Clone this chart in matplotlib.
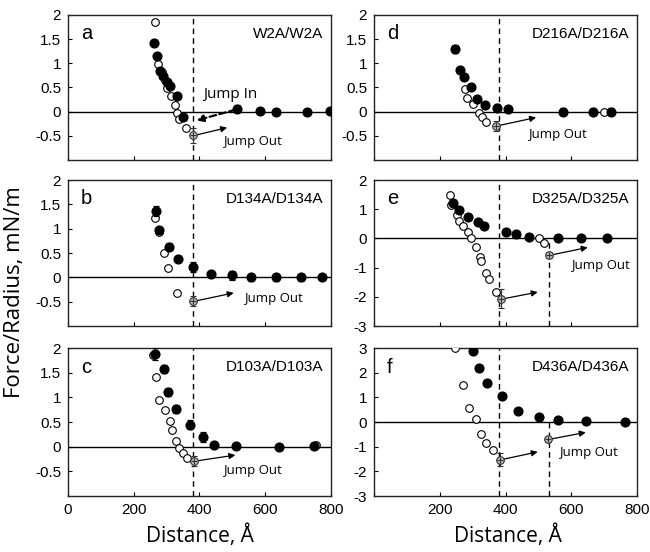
import numpy as np
import matplotlib.pyplot as plt

plt.rcParams['font.family'] = ['Liberation Sans', 'DejaVu Sans']

# ---- panel a : W2A/W2A ----
a_in_x = [263, 270, 280, 290, 300, 311, 333, 349, 514, 583, 633, 727, 796]
a_in_y = [1.42, 1.15, 0.85, 0.74, 0.61, 0.54, 0.32, -0.12, 0.06, 0.02, 0.0, 0.0, 0.01]
a_in_err = [0.06, 0.05, 0.05, 0.05, 0.05, 0.05, 0.06, 0.06, 0.07, 0.06, 0.06, 0.06, 0.06]
a_out_x = [265, 275, 285, 295, 302, 314, 326, 331, 339, 359]
a_out_y = [1.86, 0.98, 0.81, 0.65, 0.49, 0.32, 0.14, -0.03, -0.15, -0.33]
a_jump_x = [380]
a_jump_y = [-0.49]
a_jump_err = [0.15]
a_arrow_to = [[484, -0.33]]
a_dash = [380]

# ---- panel b : D134A/D134A ----
b_in_x = [268, 278, 307, 334, 380, 434, 498, 557, 633, 709, 772]
b_in_y = [1.37, 0.97, 0.63, 0.375, 0.22, 0.07, 0.04, 0.0, 0.0, 0.0, 0.0]
b_in_err = [0.1, 0.06, 0.07, 0.07, 0.1, 0.06, 0.1, 0.07, 0.07, 0.07, 0.05]
b_out_x = [265, 278, 293, 305, 331]
b_out_y = [1.21, 0.93, 0.51, 0.19, -0.32]
b_jump_x = [380]
b_jump_y = [-0.49]
b_jump_err = [0.1]
b_arrow_to = [[504, -0.32]]
b_dash = [380]

# ---- panel c : D103A/D103A ----
c_in_x = [265, 293, 305, 328, 370, 410, 443, 510, 642, 749]
c_in_y = [1.88, 1.57, 1.11, 0.77, 0.45, 0.2, 0.04, 0.01, 0.0, 0.01]
c_in_err = [0.12, 0.08, 0.08, 0.08, 0.1, 0.1, 0.06, 0.06, 0.06, 0.06]
c_out_x = [258, 268, 277, 296, 309, 315, 327, 338, 349, 362, 755]
c_out_y = [1.87, 1.41, 0.95, 0.74, 0.53, 0.34, 0.11, -0.02, -0.13, -0.22, 0.04]
c_jump_x = [384]
c_jump_y = [-0.29]
c_jump_err = [0.1]
c_arrow_to = [[509, -0.17]]
c_dash = [380]

# ---- panel d : D216A/D216A ----
d_in_x = [245, 261, 274, 294, 314, 339, 375, 408, 574, 667, 720]
d_in_y = [1.30, 0.87, 0.71, 0.51, 0.26, 0.14, 0.08, 0.05, 0.0, 0.0, 0.0]
d_in_err = [0.08, 0.06, 0.06, 0.06, 0.06, 0.06, 0.07, 0.06, 0.07, 0.07, 0.07]
d_out_x = [276, 284, 301, 318, 329, 341, 701]
d_out_y = [0.46, 0.28, 0.15, -0.03, -0.12, -0.22, 0.0]
d_jump_x = [372]
d_jump_y = [-0.29]
d_jump_err = [0.1]
d_arrow_to = [[493, -0.12]]
d_dash = [380]

# ---- panel e : D325A/D325A ----
e_in_x = [240, 258, 286, 316, 336, 402, 432, 473, 561, 631, 708]
e_in_y = [1.22, 0.99, 0.75, 0.55, 0.41, 0.21, 0.14, 0.06, 0.03, 0.01, 0.01]
e_in_err = [0.06, 0.06, 0.06, 0.06, 0.06, 0.06, 0.06, 0.06, 0.06, 0.06, 0.06]
e_out_x = [230, 235, 252, 260, 271, 286, 296, 309, 321, 326, 341, 351, 370, 501, 516]
e_out_y = [1.49, 1.13, 0.80, 0.61, 0.44, 0.23, 0.0, -0.28, -0.62, -0.77, -1.20,
           -1.40, -1.84, 0.0, -0.16]
e_jump_x = [387, 533]
e_jump_y = [-2.07, -0.57]
e_jump_err = [0.33, 0.1]
e_arrow_to = [[498, -1.84], [650, -0.31]]
e_dash = [380, 533]

# ---- panel f : D436A/D436A ----
f_in_x = [301, 319, 343, 390, 437, 503, 559, 644, 764]
f_in_y = [2.87, 2.20, 1.58, 1.05, 0.46, 0.22, 0.08, 0.04, 0.0]
f_in_err = [0.08, 0.08, 0.08, 0.08, 0.08, 0.08, 0.08, 0.08, 0.08]
f_out_x = [245, 271, 289, 311, 324, 341, 362]
f_out_y = [3.0, 1.51, 0.56, 0.11, -0.49, -0.84, -1.12]
f_jump_x = [384, 528]
f_jump_y = [-1.52, -0.70]
f_jump_err = [0.25, 0.1]
f_arrow_to = [[498, -1.21], [644, -0.42]]
f_dash = [380, 533]


def draw_panel(ax, letter, name, in_x, in_y, in_err, out_x, out_y,
               jump_x, jump_y, jump_err, arrow_to, dash, ylim, yticks,
               text_xy, xlabels=False):
    ax.set_xlim(0, 800)
    ax.set_ylim(*ylim)
    ax.axhline(0, color='black', lw=1, zorder=1)

    # first dashed line runs the full height, any second one stops at zero
    ax.axvline(dash[0], color='black', lw=1, ls=(0, (4, 3)), zorder=1)
    for d in dash[1:]:
        ax.vlines(d, ylim[0], 0, color='black', lw=1, ls=(0, (4, 3)), zorder=1)

    ax.plot(out_x, out_y, 'o', mfc='white', mec='black', ms=5.5, mew=0.8,
            zorder=3)
    ax.errorbar(in_x, in_y, yerr=in_err, fmt='o', color='black', ms=6.3,
                capsize=2, elinewidth=0.9, capthick=0.9, zorder=4)
    ax.errorbar(jump_x, jump_y, yerr=jump_err, fmt='o', mfc='#bbbbbb',
                mec='#333333', ecolor='#333333', ms=5.5, mew=0.8, capsize=2,
                elinewidth=0.9, zorder=5)
    ax.plot(jump_x, jump_y, '+', color='#333333', ms=5, mew=0.8, zorder=6)

    for x0, y0, (x1, y1) in zip(jump_x, jump_y, arrow_to):
        ax.annotate('', xy=(x1, y1), xytext=(x0 + 5, y0),
                    arrowprops=dict(arrowstyle='-|>', color='black', lw=0.9,
                                    mutation_scale=9, shrinkA=0, shrinkB=0))
    ax.text(text_xy[0], text_xy[1], 'Jump Out', fontsize=9.5,
            family='Open Sans', ha='left', va='center')

    ax.text(0.05, 0.87, letter, transform=ax.transAxes, fontsize=14.5,
            ha='left', va='center')
    ax.text(0.97, 0.87, name, transform=ax.transAxes, fontsize=11,
            ha='right', va='center')

    ax.set_yticks(yticks)
    ax.set_yticklabels([('%g' % t) for t in yticks])
    ax.set_xticks([0, 200, 400, 600, 800])
    ax.tick_params(direction='in', length=3, width=0.8, labelsize=11,
                   pad=5, colors='black')
    if not xlabels:
        ax.set_xticklabels([])
    for s in ax.spines.values():
        s.set_linewidth(1)
        s.set_color('#222222')


fig = plt.figure(figsize=(6.5, 5.52), dpi=100)
lx, rx = 68 / 650, 374 / 650
w = 263 / 650
rows = [(0.710, 0.263), (0.4094, 0.2645), (0.1014, 0.268)]

ax_a = fig.add_axes([lx, rows[0][0], w, rows[0][1]])
ax_b = fig.add_axes([lx, rows[1][0], w, rows[1][1]])
ax_c = fig.add_axes([lx, rows[2][0], w, rows[2][1]])
ax_d = fig.add_axes([rx, rows[0][0], w, rows[0][1]])
ax_e = fig.add_axes([rx, rows[1][0], w, rows[1][1]])
ax_f = fig.add_axes([rx, rows[2][0], w, rows[2][1]])

half = [-0.5, 0, 0.5, 1, 1.5, 2]
draw_panel(ax_a, 'a', 'W2A/W2A', a_in_x, a_in_y, a_in_err, a_out_x, a_out_y,
           a_jump_x, a_jump_y, a_jump_err, a_arrow_to, a_dash, (-1, 2), half,
           (473, -0.62))
draw_panel(ax_b, 'b', 'D134A/D134A', b_in_x, b_in_y, b_in_err, b_out_x, b_out_y,
           b_jump_x, b_jump_y, b_jump_err, b_arrow_to, b_dash, (-1, 2), half,
           (537, -0.44))
draw_panel(ax_c, 'c', 'D103A/D103A', c_in_x, c_in_y, c_in_err, c_out_x, c_out_y,
           c_jump_x, c_jump_y, c_jump_err, c_arrow_to, c_dash, (-1, 2), half,
           (473, -0.48), xlabels=True)
draw_panel(ax_d, 'd', 'D216A/D216A', d_in_x, d_in_y, d_in_err, d_out_x, d_out_y,
           d_jump_x, d_jump_y, d_jump_err, d_arrow_to, d_dash, (-1, 2), half,
           (468, -0.47))
draw_panel(ax_e, 'e', 'D325A/D325A', e_in_x, e_in_y, e_in_err, e_out_x, e_out_y,
           e_jump_x, e_jump_y, e_jump_err, e_arrow_to, e_dash, (-3, 2),
           [-3, -2, -1, 0, 1, 2], (599, -0.92))
draw_panel(ax_f, 'f', 'D436A/D436A', f_in_x, f_in_y, f_in_err, f_out_x, f_out_y,
           f_jump_x, f_jump_y, f_jump_err, f_arrow_to, f_dash, (-3, 3),
           [-3, -2, -1, 0, 1, 2, 3], (564, -1.24), xlabels=True)
ax_f.set_xticklabels(['', '200', '400', '600', '800'])

# "Jump In" arrow on panel a
ax_a.annotate('', xy=(391, -0.18), xytext=(509, 0.04),
              arrowprops=dict(arrowstyle='-|>', color='black', lw=1.6,
                              ls=(0, (3, 1.5)), mutation_scale=10,
                              shrinkA=0, shrinkB=0))
ax_a.text(412, 0.35, 'Jump In', fontsize=11, family='Open Sans', ha='left',
          va='center')

fig.text(200 / 650, 1 - 536 / 552, 'Distance, Å', family='Open Sans',
         fontsize=15, ha='center', va='center')
fig.text(508 / 650, 1 - 536 / 552, 'Distance, Å', family='Open Sans',
         fontsize=15, ha='center', va='center')
fig.text(15 / 650, 1 - 292 / 552, 'Force/Radius, mN/m', family='Open Sans',
         fontsize=16, ha='center', va='center', rotation=90)

fig.savefig('out.png', dpi=100)
